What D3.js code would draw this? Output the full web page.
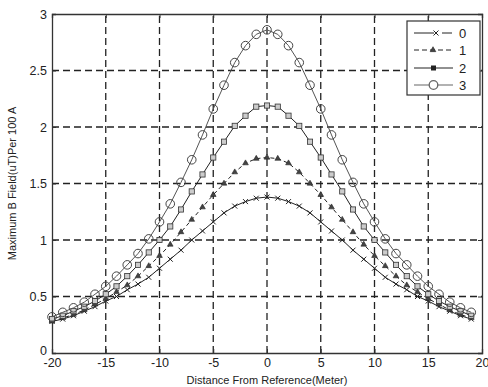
<!DOCTYPE html>
<html><head><meta charset="utf-8">
<script src="https://cdn.jsdelivr.net/npm/d3@7"></script>
<style>body{margin:0;background:#fff}svg{display:block}text{font-family:"Liberation Sans",Arial,sans-serif;fill:#222}</style>
</head><body>
<script>
const distances = d3.range(-20, 20, 1);
const series0 = [0.28,0.30,0.33,0.37,0.41,0.46,0.50,0.56,0.61,0.67,0.75,0.83,0.91,1.00,1.08,1.16,1.24,1.30,1.34,1.37,1.38,1.37,1.34,1.30,1.24,1.16,1.08,1.00,0.91,0.83,0.75,0.67,0.61,0.56,0.50,0.46,0.41,0.37,0.33,0.30];
const series1 = [0.28,0.31,0.34,0.38,0.43,0.48,0.54,0.60,0.68,0.77,0.86,0.96,1.07,1.18,1.29,1.40,1.50,1.60,1.68,1.72,1.73,1.72,1.68,1.60,1.50,1.40,1.29,1.18,1.07,0.96,0.86,0.77,0.68,0.60,0.54,0.48,0.43,0.38,0.34,0.31];
const series2 = [0.30,0.33,0.37,0.41,0.46,0.52,0.59,0.68,0.78,0.89,1.00,1.12,1.27,1.43,1.58,1.73,1.87,2.01,2.10,2.18,2.19,2.18,2.10,2.01,1.87,1.73,1.58,1.43,1.27,1.12,1.00,0.89,0.78,0.68,0.59,0.52,0.46,0.41,0.37,0.33];
const series3 = [0.32,0.36,0.40,0.45,0.52,0.59,0.68,0.78,0.88,1.01,1.16,1.32,1.51,1.71,1.93,2.16,2.37,2.57,2.72,2.82,2.86,2.82,2.72,2.57,2.37,2.16,1.93,1.71,1.51,1.32,1.16,1.01,0.88,0.78,0.68,0.59,0.52,0.45,0.40,0.36];
const seriesNames = ["0","1","2","3"];
const xTicks = [-20,-15,-10,-5,0,5,10,15,20];
const yTicks = [0,0.5,1,1.5,2,2.5,3];
const xLabel = "Distance From Reference(Meter)";
const yLabel = "Maximum B Field(uT)Per 100 A";

const W = 488, H = 387;
const m = {l:52, r:6, t:14, b:34};
const svg = d3.select("body").append("svg").attr("width", W).attr("height", H);
const x = d3.scaleLinear().domain([-20,20]).range([m.l, W - m.r]);
const y = d3.scaleLinear().domain([0,3]).range([H - m.b, m.t]);
const gridColor = "#222";

// grid
svg.append("g").selectAll("line").data(xTicks.slice(1,-1)).join("line")
  .attr("x1", d=>x(d)).attr("x2", d=>x(d)).attr("y1", y(0)).attr("y2", y(3))
  .attr("stroke", gridColor).attr("stroke-width", 1.3).attr("stroke-dasharray", "7,4");
svg.append("g").selectAll("line").data(yTicks.slice(1,-1)).join("line")
  .attr("y1", d=>y(d)).attr("y2", d=>y(d)).attr("x1", x(-20)).attr("x2", x(20))
  .attr("stroke", gridColor).attr("stroke-width", 1.3).attr("stroke-dasharray", "7,4");

// axes
const gx = svg.append("g").attr("transform", `translate(0,${y(0)})`)
  .call(d3.axisBottom(x).tickValues(xTicks).tickSize(-4).tickPadding(5).tickFormat(d=>String(d)));
const gxt = svg.append("g").attr("transform", `translate(0,${y(3)})`)
  .call(d3.axisTop(x).tickValues(xTicks).tickSize(-4).tickFormat(""));
const gy = svg.append("g").attr("transform", `translate(${x(-20)},0)`)
  .call(d3.axisLeft(y).tickValues(yTicks).tickSize(-4).tickPadding(5).tickFormat(d=>String(d)));
const gyr = svg.append("g").attr("transform", `translate(${x(20)},0)`)
  .call(d3.axisRight(y).tickValues(yTicks).tickSize(-4).tickFormat(""));
[gx,gxt,gy,gyr].forEach(g=>{
  g.select(".domain").attr("stroke","#333").attr("stroke-width",1.3);
  g.selectAll(".tick line").attr("stroke","#333");
  g.selectAll("text").attr("font-size", 12.5).attr("fill","#222").style("font-family",'"Liberation Sans",Arial,sans-serif');
});
gy.selectAll(".tick text").filter(d => d === 0).attr("y", -3);

svg.append("text").attr("x", (x(-20)+x(20))/2).attr("y", 384).attr("text-anchor","middle")
  .attr("font-size", 11).text(xLabel);
svg.append("text").attr("transform", `translate(16,${(y(0)+y(3))/2}) rotate(-90)`).attr("text-anchor","middle")
  .attr("font-size", 11).text(yLabel);

const all = [series0, series1, series2, series3];
const styles = [
  {stroke:"#222", dash:null, width:1},
  {stroke:"#222", dash:"4,3", width:1},
  {stroke:"#222", dash:null, width:1},
  {stroke:"#555", dash:null, width:1}
];
const line = d3.line().x((d,i)=>x(distances[i])).y(d=>y(d));

function marker(g, type, cx, cy) {
  if (type === 0) {
    const s = 2.5;
    g.append("path").attr("d", `M${cx-s},${cy-s}L${cx+s},${cy+s}M${cx-s},${cy+s}L${cx+s},${cy-s}`)
      .attr("stroke","#222").attr("stroke-width",1).attr("fill","none");
  } else if (type === 1) {
    g.append("path").attr("d", d3.symbol(d3.symbolTriangle, 14)()).attr("transform", `translate(${cx},${cy})`)
      .attr("fill","#444").attr("stroke","#222").attr("stroke-width",0.6);
  } else if (type === 2) {
    const s = 2.6;
    g.append("rect").attr("x", cx-s).attr("y", cy-s).attr("width", 2*s).attr("height", 2*s)
      .attr("fill","#ccc").attr("stroke","#333").attr("stroke-width",0.8);
  } else {
    g.append("circle").attr("cx", cx).attr("cy", cy).attr("r", 4.3)
      .attr("fill","none").attr("stroke","#444").attr("stroke-width",1);
  }
}

all.forEach((vals, si) => {
  const st = styles[si];
  svg.append("path").datum(vals).attr("d", line).attr("fill","none")
    .attr("stroke", st.stroke).attr("stroke-width", st.width)
    .attr("stroke-dasharray", st.dash);
  const g = svg.append("g");
  vals.forEach((v,i)=> marker(g, si, x(distances[i]), y(v)));
});

// legend
const lg = svg.append("g");
lg.append("rect").attr("x", 407).attr("y", 21).attr("width", 73).attr("height", 74)
  .attr("fill","#fff").attr("stroke","#333").attr("stroke-width",1.2);
const ly = [33, 50, 68, 85];
seriesNames.forEach((name, i) => {
  const yy = ly[i];
  if (i === 0) {
    lg.append("line").attr("x1",414).attr("x2",434).attr("y1",yy).attr("y2",yy).attr("stroke","#222");
    lg.append("line").attr("x1",442).attr("x2",452).attr("y1",yy).attr("y2",yy).attr("stroke","#222");
    marker(lg, 0, 436, yy);
  } else if (i === 1) {
    lg.append("line").attr("x1",414).attr("x2",453).attr("y1",yy).attr("y2",yy).attr("stroke","#222").attr("stroke-dasharray","5,3");
    marker(lg, 1, 433, yy);
  } else if (i === 2) {
    lg.append("line").attr("x1",414).attr("x2",453).attr("y1",yy).attr("y2",yy).attr("stroke","#222");
    lg.append("rect").attr("x",431).attr("y",yy-2.5).attr("width",5).attr("height",5).attr("fill","#222");
  } else {
    lg.append("line").attr("x1",414).attr("x2",453).attr("y1",yy).attr("y2",yy).attr("stroke","#999").attr("stroke-width",1.5);
    lg.append("circle").attr("cx",433.5).attr("cy",yy).attr("r",4.3).attr("fill","#fff").attr("stroke","#666").attr("stroke-width",1.3);
  }
  lg.append("text").attr("x", 459).attr("y", yy+4.5).attr("font-size", 13).text(name);
});
</script>
</body></html>
